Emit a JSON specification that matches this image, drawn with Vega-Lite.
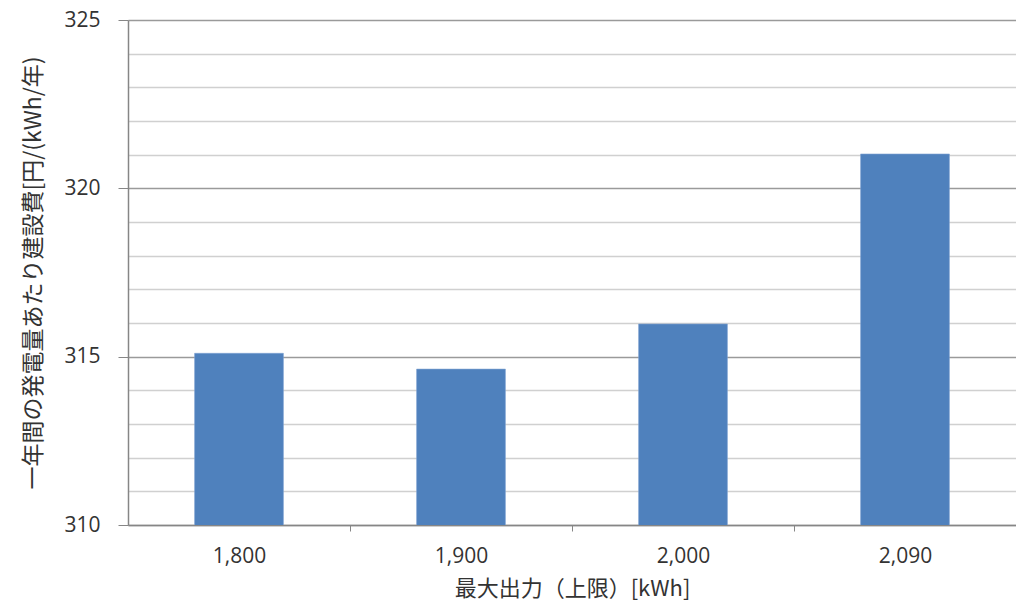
{
  "$schema": "https://vega.github.io/schema/vega-lite/v6.json",
  "width": 888,
  "height": 505,
  "autosize": "none",
  "padding": {"left": 128, "top": 20, "right": 0, "bottom": 85},
  "background": "white",
  "config": {
    "view": {"stroke": null},
    "font": "Noto Sans CJK JP"
  },
  "data": {
    "values": [
      {"max_output": "1,800", "cost": 315.1},
      {"max_output": "1,900", "cost": 314.63},
      {"max_output": "2,000", "cost": 315.97},
      {"max_output": "2,090", "cost": 321.02}
    ]
  },
  "mark": {"type": "bar", "color": "#4F81BD", "stroke": "#7FA3D1", "strokeWidth": 0.6, "clip": true},
  "encoding": {
    "x": {
      "field": "max_output",
      "type": "ordinal",
      "sort": null,
      "scale": {"paddingInner": 0.6, "paddingOuter": 0.3},
      "axis": {
        "title": "最大出力（上限）[kWh]",
        "titleFont": "Noto Sans CJK JP",
        "titleFontSize": 22,
        "titleFontWeight": "normal",
        "titleColor": "#333333",
        "titlePadding": 12,
        "titleBaseline": "top",
        "labelAngle": 0,
        "labelFont": "Open Sans",
        "labelFontSize": 21,
        "labelColor": "#333333",
        "labelPadding": 14,
        "labelOffset": -111,
        "tickOffset": 111,
        "tickSize": 6,
        "tickColor": "#868686",
        "domainColor": "#868686",
        "domainWidth": 1.5,
        "grid": false
      }
    },
    "y": {
      "field": "cost",
      "type": "quantitative",
      "scale": {"domain": [310, 325], "zero": false, "nice": false},
      "axis": {
        "title": "一年間の発電量あたり建設費[円/(kWh/年)",
        "titleFont": "Noto Sans CJK JP",
        "titleFontSize": 23,
        "titleFontWeight": "normal",
        "titleColor": "#333333",
        "titlePadding": 18,
        "values": [310, 311, 312, 313, 314, 315, 316, 317, 318, 319, 320, 321, 322, 323, 324, 325],
        "labelExpr": "datum.value % 5 === 0 ? datum.value : ''",
        "labelFont": "Open Sans",
        "labelFontSize": 21,
        "labelColor": "#333333",
        "labelPadding": 18,
        "tickSize": 10,
        "tickColor": "#868686",
        "tickOpacity": {"condition": {"test": "datum.value % 5 === 0", "value": 1}, "value": 0},
        "domainColor": "#868686",
        "domainWidth": 1.5,
        "grid": true,
        "gridColor": {"condition": {"test": "datum.value % 5 === 0", "value": "#9a9a9a"}, "value": "#d0d0d0"},
        "gridWidth": 1.5
      }
    }
  }
}
